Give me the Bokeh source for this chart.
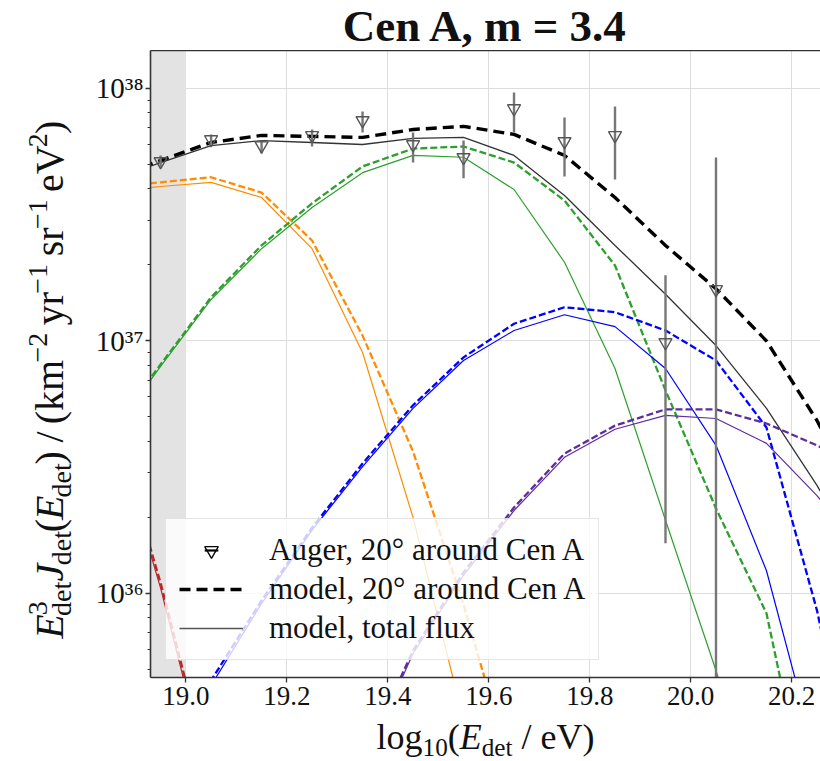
import math
import numpy as np
from bokeh.plotting import figure
from bokeh.layouts import column, row
from bokeh.models import (ColumnDataSource, FixedTicker, NumeralTickFormatter,
                          CustomJSTickFormatter, Legend, LegendItem,
                          BoxAnnotation, LinearAxis, Range1d)
from bokeh.core.properties import value, field
from bokeh.embed import file_html
from bokeh.resources import INLINE

# ---------------- data ----------------
LOG_E = [18.85, 18.95, 19.05, 19.15, 19.25, 19.35, 19.45, 19.55,
         19.65, 19.75, 19.85, 19.95, 20.05, 20.15, 20.25, 20.35]

AUGER_LOG_E = [18.95, 19.05, 19.15, 19.25, 19.35, 19.45, 19.55,
               19.65, 19.75, 19.85, 19.95, 20.05]
AUGER_FLUX = [5.14e37, 6.28e37, 5.94e37, 6.52e37, 7.47e37, 6.00e37, 5.33e37,
              8.33e37, 6.17e37, 6.52e37, 9.86e36, 1.60e37]
AUGER_LO = [4.87e37, 6.00e37, 5.53e37, 5.89e37, 6.70e37, 5.09e37, 4.41e37,
            6.70e37, 4.48e37, 4.36e37, 1.58e36, 1.0e35]
AUGER_HI = [5.43e37, 6.58e37, 6.22e37, 6.88e37, 8.11e37, 6.70e37, 6.22e37,
            9.64e37, 7.68e37, 8.49e37, 1.82e37, 5.33e37]

MODEL_20DEG = [4.41e37, 5.19e37, 6.11e37, 6.52e37, 6.46e37, 6.40e37, 6.88e37, 7.08e37,
               6.58e37, 5.43e37, 3.70e37, 2.39e37, 1.61e37, 1.00e37, 4.84e36, 2.0e36]
MODEL_TOTAL = [4.30e37, 5.09e37, 5.94e37, 6.22e37, 6.11e37, 6.00e37, 6.34e37, 6.40e37,
               5.43e37, 3.77e37, 2.39e37, 1.53e37, 9.59e36, 5.41e36, 2.68e36, 1.2e36]

# mass groups: (20 deg window, total flux)
G1_20DEG = [5.3e36, 1.10e36, 1.82e35, 2.0e34, None, None, None, None,
            None, None, None, None, None, None, None, None]
G1_TOTAL = [5.0e36, 1.05e36, 1.70e35, 1.8e34, None, None, None, None,
            None, None, None, None, None, None, None, None]
G2_20DEG = [4.06e37, 4.25e37, 4.45e37, 3.87e37, 2.50e37, 1.05e37, 3.65e36, 9.04e35,
            1.82e35, 3.0e34, None, None, None, None, None, None]
G2_TOTAL = [3.91e37, 4.09e37, 4.25e37, 3.70e37, 2.32e37, 9.0e36, 2.0e36, 3.14e35,
            4.0e34, None, None, None, None, None, None, None]
G3_20DEG = [4.35e36, 8.07e36, 1.49e37, 2.39e37, 3.51e37, 4.91e37, 5.78e37, 5.89e37,
            5.09e37, 3.60e37, 1.99e37, 6.37e36, 2.17e36, 8.34e35, 9.5e34, 1.0e34]
G3_TOTAL = [4.20e36, 7.93e36, 1.46e37, 2.32e37, 3.38e37, 4.64e37, 5.43e37, 5.34e37,
            3.98e37, 2.05e37, 7.78e36, 1.95e36, 4.95e35, 1.15e35, 2.0e34, None]
G4_20DEG = [5.0e34, 1.5e35, 4.52e35, 9.37e35, 1.82e36, 3.27e36, 5.56e36, 8.61e36,
            1.17e37, 1.36e37, 1.30e37, 1.10e37, 8.37e36, 4.54e36, 8.57e35, 1.0e35]
G4_TOTAL = [4.0e34, 1.4e35, 4.32e35, 9.12e35, 1.78e36, 3.18e36, 5.41e36, 8.37e36,
            1.10e37, 1.27e37, 1.14e37, 7.78e36, 3.86e36, 1.23e36, 2.18e35, 3.0e34]
G5_20DEG = [None, None, None, None, 5.0e34, 2.18e35, 5.94e35, 1.21e36,
            2.19e36, 3.58e36, 4.62e36, 5.36e36, 5.36e36, 4.71e36, 3.86e36, 3.0e36]
G5_TOTAL = [None, None, None, None, 4.8e34, 2.08e35, 5.78e35, 1.18e36,
            2.13e36, 3.46e36, 4.47e36, 5.07e36, 4.93e36, 3.93e36, 2.44e36, 1.4e36]

X_TICKS = [19.0, 19.2, 19.4, 19.6, 19.8, 20.0, 20.2]
Y_TICKS = [1e36, 1e37, 1e38]
ANALYSIS_THRESHOLD = 19.0          # shaded region below this energy
X_RANGE = (18.93, 20.257)
Y_RANGE = (4.645e35, 1.414e38)

TITLE = "Cen A, m = 3.4"
LEGEND_LABELS = ["Auger, 20\u00b0 around Cen A",
                 "model, 20\u00b0 around Cen A",
                 "model, total flux"]

# ---------------- layout sizes ----------------
PAGE_W = 820
TITLE_H = 50
YLAB_W = 80
MAIN_W = PAGE_W - YLAB_W
MAIN_H = 666
XLAB_H = 45
FRAME_L = 70       # inside main figure
FRAME_B = 39
FONT = "Liberation Serif"
INK = "#111111"
SPINE = "#333333"
MID = 0.3375       # distance (em) from the text's box middle to its baseline

p = figure(width=MAIN_W, height=MAIN_H, x_range=X_RANGE, y_range=Y_RANGE, y_axis_type="log",
           output_backend="svg", toolbar_location=None,
           min_border_left=FRAME_L, min_border_right=0, min_border_top=0,
           min_border_bottom=FRAME_B)
p.outline_line_color = None
p.background_fill_color = "white"
p.border_fill_color = "white"

# axes
p.xaxis.ticker = FixedTicker(ticks=X_TICKS, minor_ticks=[])
p.xaxis.formatter = NumeralTickFormatter(format="0.0")
minor = [m * 10.0 ** e for e in (35, 36, 37, 38) for m in range(2, 10)]
p.yaxis.ticker = FixedTicker(ticks=Y_TICKS, minor_ticks=minor)
p.yaxis.formatter = CustomJSTickFormatter(code="""
const sup = ['\\u2070','\\u00b9','\\u00b2','\\u00b3','\\u2074','\\u2075','\\u2076','\\u2077','\\u2078','\\u2079'];
const e = Math.round(Math.log10(tick));
let s = '';
for (const c of String(Math.abs(e))) s += sup[+c];
return '10' + (e < 0 ? '\\u207b' : '') + s;
""")
for ax in (p.xaxis[0], p.yaxis[0]):
    ax.axis_line_color = SPINE
    ax.axis_line_width = 1.6
    ax.major_tick_line_color = SPINE
    ax.major_tick_line_width = 1.3
    ax.major_tick_in = 0
    ax.major_tick_out = 5
    ax.minor_tick_line_color = SPINE
    ax.minor_tick_in = 0
    ax.minor_tick_out = 3
    ax.major_label_text_font = FONT
    ax.major_label_text_color = INK
p.xaxis.major_label_text_font_size = "27px"
p.xaxis.major_label_standoff = 4
p.yaxis.major_label_text_font_size = "29px"
p.yaxis.major_label_standoff = 2

top = LinearAxis(ticker=FixedTicker(ticks=[]), axis_line_color=SPINE, axis_line_width=1.6,
                 major_tick_line_color=None, minor_tick_line_color=None,
                 major_tick_out=0, minor_tick_out=0, major_label_standoff=0,
                 major_label_text_font_size="0px")
p.add_layout(top, "above")

p.xgrid.grid_line_color = "#dddddd"
p.ygrid.grid_line_color = "#dddddd"

p.add_layout(BoxAnnotation(right=ANALYSIS_THRESHOLD, fill_color="#e3e3e3", fill_alpha=1.0,
                           line_color=None, level="underlay"))

# ---------------- model curves ----------------
x = np.array(LOG_E, dtype=float)
def arr(v):
    return np.array([np.nan if a is None else a for a in v], dtype=float)

groups = [
    (G1_20DEG, G1_TOTAL, "#b8282a"),
    (G2_20DEG, G2_TOTAL, "darkorange"),
    (G3_20DEG, G3_TOTAL, "#2ca02c"),
    (G4_20DEG, G4_TOTAL, "#0000ff"),
    (G5_20DEG, G5_TOTAL, "#5f2b9e"),
]
for dashed, solid, col in groups:
    p.line(x, arr(solid), line_color=col, line_width=1.2)
    p.line(x, arr(dashed), line_color=col, line_width=2.3, line_dash="7 3")

p.line(x, arr(MODEL_TOTAL), line_color="#333333", line_width=1.3)
p.line(x, arr(MODEL_20DEG), line_color="black", line_width=3.4, line_dash="11 6")

# ---------------- Auger data ----------------
src = ColumnDataSource(dict(x=AUGER_LOG_E, y=AUGER_FLUX, lo=AUGER_LO, hi=AUGER_HI))
p.segment(x0="x", y0="lo", x1="x", y1="hi", source=src, line_color="#777777", line_width=2.4)
p.scatter("x", "y", source=src, marker="inverted_triangle", size=13,
          line_color="#555555", line_width=1.4, fill_color="white", fill_alpha=0.0)

# ---------------- legend (proxy renderers draw nothing in the plot) ----------------
nan = [np.nan]
lg_bar = p.scatter(nan, nan, marker="dash", angle=math.pi / 2, line_color="black", line_width=2.2)
lg_tri = p.scatter(nan, nan, marker="inverted_triangle", line_color="black", line_width=1.3,
                   fill_alpha=0.0)
lg_dash = p.line(nan, nan, line_color="black", line_width=3.4, line_dash="11 6")
lg_solid = p.line(nan, nan, line_color="#555555", line_width=1.6)
legend = Legend(items=[LegendItem(label=LEGEND_LABELS[0], renderers=[lg_bar, lg_tri]),
                       LegendItem(label=LEGEND_LABELS[1], renderers=[lg_dash]),
                       LegendItem(label=LEGEND_LABELS[2], renderers=[lg_solid])],
                location=(15, 17))
legend.label_text_font = FONT
legend.label_text_font_size = "31px"
legend.label_text_color = INK
legend.glyph_width = 64
legend.glyph_height = 34
legend.label_height = 34
legend.spacing = 3
legend.padding = 13
legend.margin = 0
legend.label_standoff = 26
legend.background_fill_color = "white"
legend.background_fill_alpha = 0.8
legend.border_line_color = "#cccccc"
legend.border_line_width = 1
p.add_layout(legend)

# ---------------- text panels (title, axis labels with sub/superscripts) ----------------
def text_panel(w, h):
    f = figure(width=w, height=h, x_range=Range1d(0, w), y_range=Range1d(h, 0),
               output_backend="svg", toolbar_location=None,
               x_axis_location=None, y_axis_location=None,
               min_border=0, min_border_left=0, min_border_right=0,
               min_border_top=0, min_border_bottom=0)
    f.grid.visible = False
    f.outline_line_color = None
    f.background_fill_color = "white"
    f.border_fill_color = "white"
    return f

ROMAN = {' ': 250, '(': 333, ')': 333, '/': 278, 'k': 500, 'm': 778, 'y': 500, 'r': 333,
         's': 389, 'e': 444, 'V': 722, 'd': 500, 't': 278, 'l': 278, 'o': 500, 'g': 500,
         '\u2212': 564}
ITALIC = {'E': 611, 'J': 444}
SCRIPT = 0.7

def tw(s, size, italic=False):
    tab = ITALIC if italic else ROMAN
    return sum(tab.get(c, 500) for c in s) * size / 1000.0

def parts_of(text, role):
    if role == "supsub":
        return [(text[0], "sup"), (text[1], "sub")]
    return [(text, role)]

def rich_text(f, pieces, fs, center, base, vertical, sub_drop=0.22):
    """Lay out pieces along a baseline; each piece is anchored at its box centre."""
    layout = []
    along = 0.0
    for text, role, gap in pieces:
        along += gap * fs
        w = 0.0
        for t, r in parts_of(text, role):
            size = fs * SCRIPT if r in ("sup", "sub") else fs
            rise = {"sup": 0.38 * fs, "sub": -sub_drop * fs}.get(r, 0.0)
            wt = tw(t, size, r == "i")
            layout.append((t, along + wt / 2, rise + MID * size, size, r == "i"))
            w = max(w, wt)
        along += w
    total = along
    d = dict(x=[], y=[], text=[], size=[], style=[])
    for t, a, up, size, it in layout:
        if vertical:
            cx, cy = base - up, center + total / 2 - a
        else:
            cx, cy = center - total / 2 + a, base - up
        d["x"].append(cx)
        d["y"].append(cy)
        d["text"].append(t)
        d["size"].append("%.1fpx" % size)
        d["style"].append("italic" if it else "normal")
    f.text(x="x", y="y", text="text", source=ColumnDataSource(d),
           text_font=value(FONT), text_font_size=field("size"), text_font_style=field("style"),
           text_color=INK, text_align="center", text_baseline="middle",
           angle=math.pi / 2 if vertical else 0.0)

XLABEL = [("log", "n", 0), ("10", "sub", 0), ("(", "n", 0), ("E", "i", 0), ("det", "sub", 0),
          ("/", "n", 0.25), ("eV)", "n", 0.25)]
YLABEL = [("E", "i", 0), (("3", "det"), "supsub", 0), ("J", "i", 0.05), ("det", "sub", 0),
          ("(", "n", 0), ("E", "i", 0), ("det", "sub", 0), (")", "n", 0),
          ("/", "n", 0.25), ("(km", "n", 0.25), ("\u22122", "sup", 0),
          ("yr", "n", 0.25), ("\u22121", "sup", 0), ("sr", "n", 0.25), ("\u22121", "sup", 0),
          ("eV", "n", 0.25), ("2", "sup", 0), (")", "n", 0)]

frame_h = MAIN_H - FRAME_B
frame_cx = YLAB_W + FRAME_L + (MAIN_W - FRAME_L) / 2

title_fig = text_panel(PAGE_W, TITLE_H)
TITLE_FS = 45
title_fig.text(x=[frame_cx], y=[40.5 - MID * TITLE_FS], text=[TITLE], text_font=value(FONT),
               text_font_size=value("%dpx" % TITLE_FS), text_font_style="bold", text_color=INK,
               text_align="center", text_baseline="middle")

ylab_fig = text_panel(YLAB_W, MAIN_H)
rich_text(ylab_fig, YLABEL, 40, frame_h / 2 + 36, 62, vertical=True)

XLAB_FS = 36
xlab_fig = text_panel(PAGE_W, XLAB_H)
rich_text(xlab_fig, XLABEL, XLAB_FS, frame_cx, 0.891 * XLAB_FS + 0.3, vertical=False,
          sub_drop=0.2)

page = column(title_fig, row(ylab_fig, p, spacing=0), xlab_fig, spacing=0)

open("out.html", "w", encoding="utf-8").write(file_html(page, INLINE))
